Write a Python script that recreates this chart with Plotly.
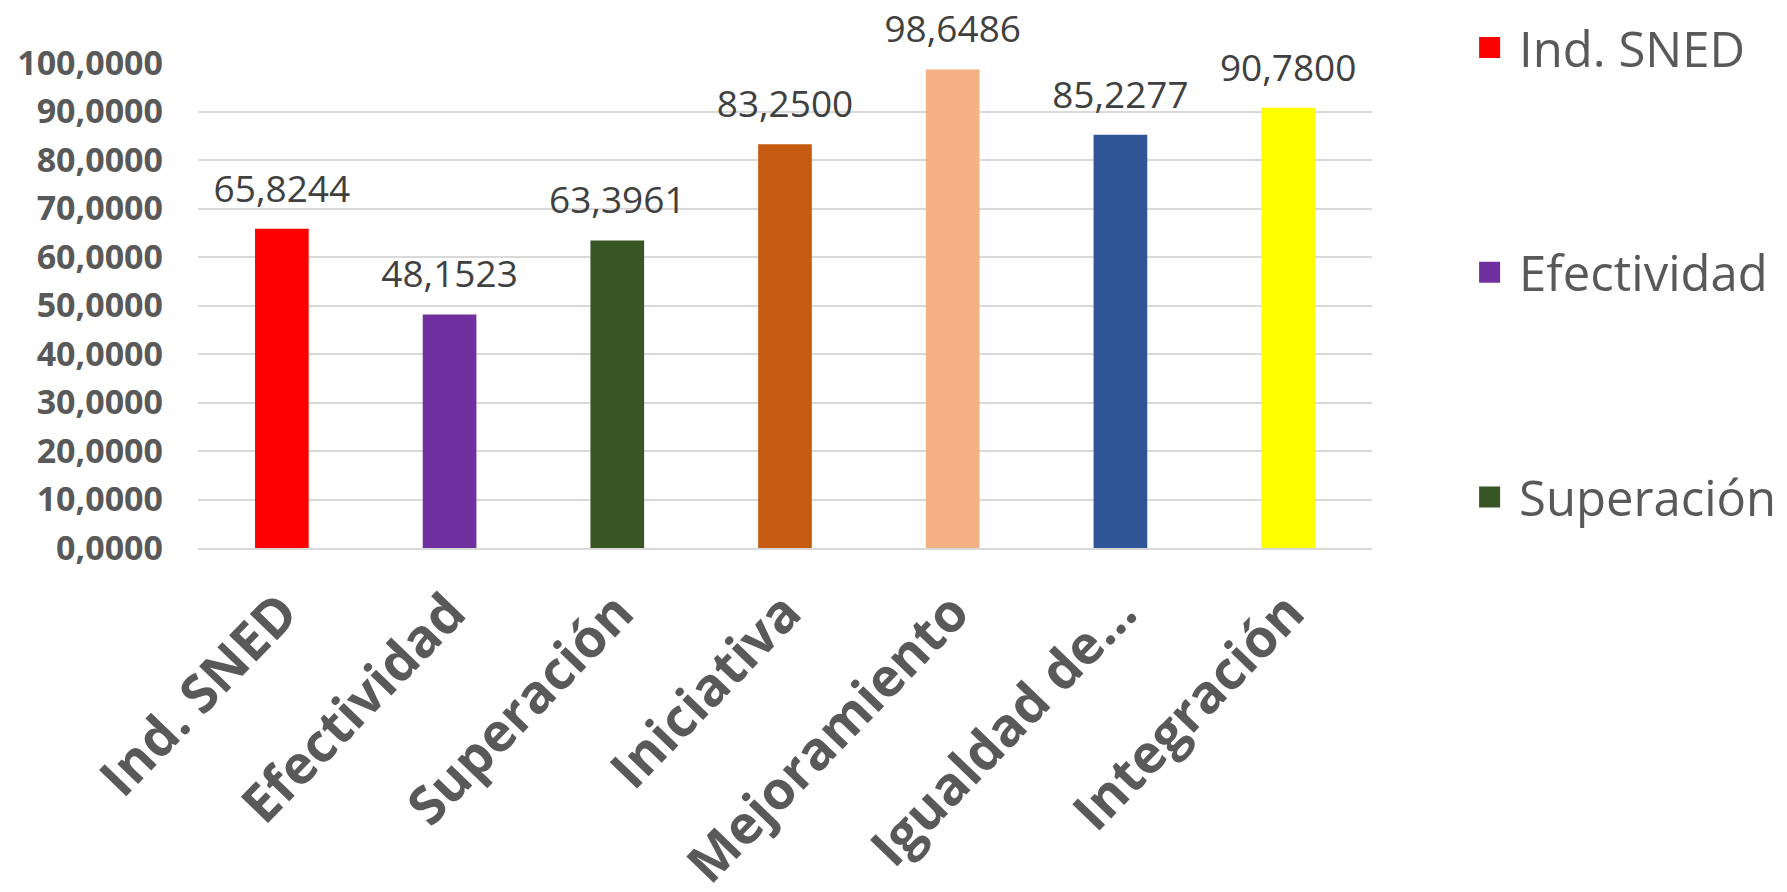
import plotly.graph_objects as go

categories = ["Ind. SNED", "Efectividad", "Superación", "Iniciativa",
              "Mejoramiento", "Igualdad de...", "Integración"]
values = [65.8244, 48.1523, 63.3961, 83.2500, 98.6486, 85.2277, 90.7800]
colors = ["#FF0000", "#7030A0", "#375623", "#C55A11", "#F4B183", "#2F5597", "#FFFF00"]
legend_items = categories[:3]
y_ticks = [0, 10, 20, 30, 40, 50, 60, 70, 80, 90, 100]

FONT = "Open Sans"

fig = go.Figure()
for cat, val, col in zip(categories, values, colors):
    fig.add_trace(go.Bar(
        x=[cat], y=[val], name=cat,
        marker=dict(color=col, line=dict(width=0)),
        showlegend=False,
        legendgroup=cat,
        hovertemplate="%{x}: %{y:.4f}<extra></extra>",
    ))

# data labels above the bars
fig.add_trace(go.Scatter(
    x=categories, y=values, mode="markers+text",
    marker=dict(size=27, opacity=0),
    texttemplate="%{y:.4f}", textposition="top center",
    textfont=dict(family=FONT, size=37, color="#404040"),
    cliponaxis=False, showlegend=False, hoverinfo="skip",
))

# legend entries
for cat in legend_items:
    col = colors[categories.index(cat)]
    fig.add_trace(go.Scatter(
        x=[None], y=[None], mode="markers", name=cat,
        marker=dict(symbol="square", size=16, color=col, line=dict(width=5, color=col)),
        legendgroup=cat, showlegend=True, hoverinfo="skip",
    ))

fig.update_layout(
    width=1787, height=892,
    paper_bgcolor="white", plot_bgcolor="white",
    separators=",.",
    barmode="overlay", bargap=0.68,
    margin=dict(l=190, r=423, t=55, b=352, autoexpand=False),
    font=dict(family=FONT, color="#595959"),
    showlegend=True,
    legend=dict(
        xref="container", yref="paper",
        x=0.8126, y=1.111, xanchor="left", yanchor="top",
        font=dict(family=FONT, size=49, color="#595959"),
        traceorder="grouped", tracegroupgap=158,
        itemwidth=49, bgcolor="rgba(0,0,0,0)",
        maxheight=892,
    ),
)
fig.update_xaxes(
    categoryorder="array", categoryarray=categories,
    tickangle=-46, automargin=False,
    tickfont=dict(family=FONT, size=53, color="#595959", weight="bold"),
    showline=True, linecolor="#D9D9D9", linewidth=2,
    ticks="", ticklabelstandoff=10,
    showgrid=False,
)
fig.update_yaxes(
    range=[0, 100], tickvals=y_ticks, tickformat=".4f", automargin=False,
    tickfont=dict(family=FONT, size=34, color="#595959", weight="bold"),
    showgrid=True, gridcolor="#D9D9D9", gridwidth=2,
    zeroline=False, showline=False, ticks="", ticklabelstandoff=34,
)

fig.write_html("out.html")
